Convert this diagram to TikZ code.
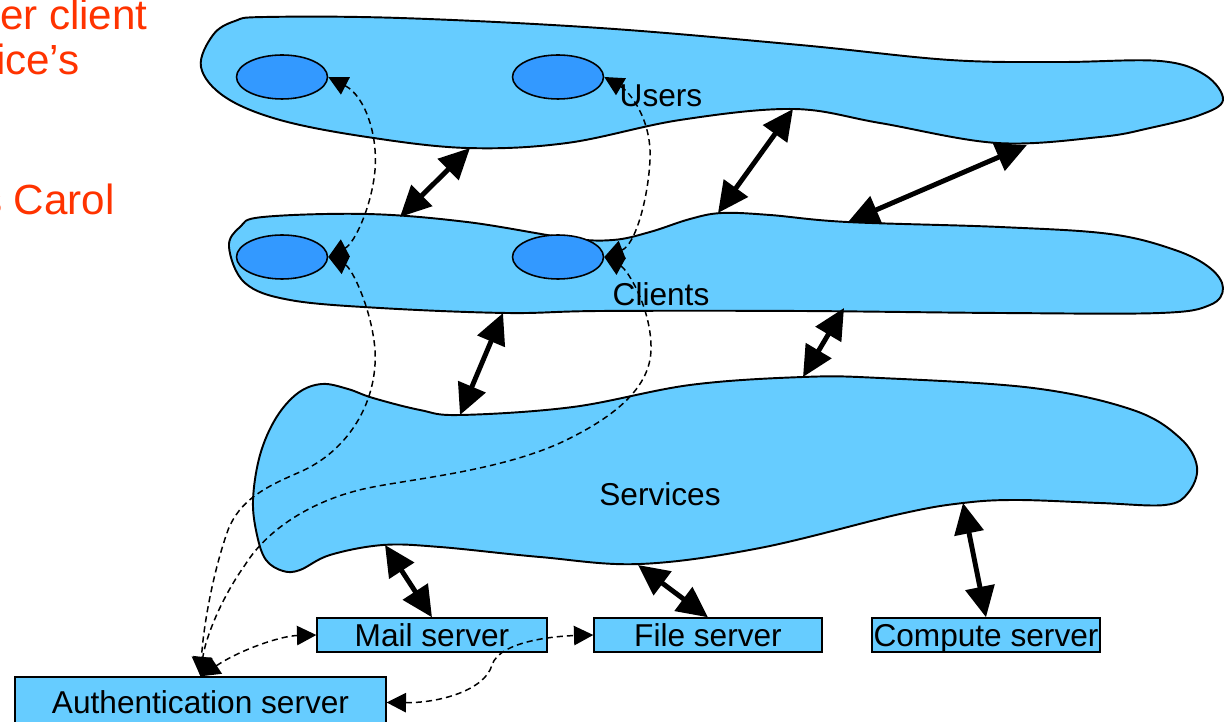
\documentclass[tikz,border=0pt]{standalone}
\usepackage{fontspec}
\setmainfont{Liberation Sans}
\usetikzlibrary{arrows.meta,shapes.geometric}
\definecolor{blobblue}{HTML}{66CCFF}
\definecolor{ellblue}{HTML}{3399FF}
\definecolor{redtxt}{RGB}{255,51,0}
\begin{document}
\begin{tikzpicture}[x=0.02cm,y=-0.02cm,
  blob/.style={fill=blobblue,draw=black,line width=1.1pt},
  person/.style={ellipse,fill=ellblue,draw=black,line width=0.9pt,minimum width=1.82cm,minimum height=0.88cm,inner sep=0pt},
  server/.style={rectangle,fill=blobblue,draw=black,line width=0.8pt,inner sep=0pt,minimum height=0.68cm,text height=13pt,text depth=0pt,font=\fontsize{18}{20}\selectfont},
  lbl/.style={font=\fontsize{18}{20}\selectfont,inner sep=0pt},
  redlbl/.style={font=\fontsize{24}{28}\selectfont,text=redtxt,inner sep=0pt,anchor=base east},
  bigarrow/.style={line width=2.8pt,{Triangle[length=17.5pt,width=16.5pt]}-{Triangle[length=17.5pt,width=16.5pt]}},
  dasharrow/.style={line width=0.85pt,dash pattern=on 3.5pt off 2.3pt,{Triangle[length=11pt,width=11pt]}-{Triangle[length=11pt,width=11pt]}}
]
\useasboundingbox (0,0) rectangle (1225,722);
\clip (0,0) rectangle (1225,722);

% red text (cut off at the left edge)
\node[redlbl] (r1) at (148,30) {er client};
\node[redlbl] (r2) at (80,75) {ice’s};
\node[redlbl] (r3) at (115,215) {s Carol};

% Users blob
\draw[blob] plot[smooth cycle,tension=0.6] coordinates {
  (201,67) (213,35) (235,21) (265,17) (400,18) (600,28) (800,45) (950,60) (1060,62) (1160,61)
  (1205,75) (1223,100) (1200,115) (1150,128) (1100,137) (997,143) (880,123) (793,109) (680,120) (567,143)
  (467,148) (367,137) (280,120) (225,97)};
% Clients blob
\draw[blob] plot[smooth cycle,tension=0.6] coordinates {
  (229,247) (240,227) (263,217) (367,214) (467,222) (567,238) (613,240) (650,232) (690,219)
  (722,213) (770,215) (847,222) (1000,227) (1110,234) (1175,250) (1210,268)
  (1223,288) (1210,305) (1160,313) (1000,313) (800,311) (600,311) (507,313) (380,308) (290,300) (245,283)};
% Services blob
\draw[blob] plot[smooth cycle,tension=0.6] coordinates {
  (253,500) (260,455) (276,418) (298,393) (322,384) (348,389) (373,398) (420,410) (460,415)
  (573,407) (690,385) (803,377) (880,378) (1033,388) (1133,410) (1180,438)
  (1197,467) (1188,493) (1165,505) (1100,503) (1017,500) (963,503) (900,514) (760,548)
  (640,564) (540,557) (440,547) (383,545) (330,555) (300,570) (283,571) (266,560) (257,535)};

% users / clients
\node[person] (uL) at (282,77) {};
\node[person] (uR) at (558,77) {};
\node[person] (cL) at (282,257) {};
\node[person] (cR) at (558,257) {};

\node[lbl] (tu) at (661,96) {Users};
\node[lbl] (tc) at (661,294) {Clients};
\node[lbl] (ts) at (660,494) {Services};

% servers
\node[server,minimum width=4.6cm] (mail) at (432,635) {Mail server};
\node[server,minimum width=4.56cm] (file) at (708,635) {File server};
\node[server,minimum width=4.56cm] (compute) at (986,635) {Compute server};
\node[server,minimum width=7.42cm,minimum height=1.02cm] (auth) at (200.5,702.5) {Authentication server};

% dashed authentication paths
\draw[dasharrow] (uL.east) .. controls (365,96) and (378,135) .. (375,170)
  .. controls (372,205) and (355,243) .. (cL.east);
\draw[dasharrow] (cL.east) .. controls (352,268) and (372,310) .. (375,350)
  .. controls (378,400) and (350,450) .. (300,472)
  .. controls (265,487) and (240,500) .. (228,530)
  .. controls (212,575) and (203,630) .. (auth.north);
\draw[dasharrow] (uR.east) .. controls (630,92) and (652,120) .. (650,160)
  .. controls (648,200) and (635,245) .. (cR.east);
\draw[dasharrow] (cR.east) .. controls (628,270) and (652,310) .. (651,350)
  .. controls (650,385) and (620,415) .. (560,443)
  .. controls (500,470) and (420,478) .. (373,487)
  .. controls (320,497) and (270,525) .. (245,565)
  .. controls (220,600) and (205,640) .. (auth.north);
\draw[dasharrow] (auth.north) .. controls (240,650) and (280,636) .. (mail.west);
\draw[dasharrow] (auth.east) .. controls (440,703) and (485,690) .. (492,665)
  .. controls (500,640) and (560,636) .. (file.west);

% thick interaction arrows
\coordinate (a1s) at (400,217); \coordinate (a1t) at (470,148);
\coordinate (a2s) at (718,213); \coordinate (a2t) at (793,109);
\coordinate (a3s) at (848,222); \coordinate (a3t) at (1027,145);
\coordinate (a4s) at (460,415); \coordinate (a4t) at (503,313);
\coordinate (a5s) at (803,377); \coordinate (a5t) at (844,308);
\coordinate (a6t) at (385,545);
\coordinate (a7t) at (638,565);
\coordinate (a8t) at (963,503);
\draw[bigarrow] (a1s) -- (a1t);
\draw[bigarrow] (a2s) -- (a2t);
\draw[bigarrow] (a3s) -- (a3t);
\draw[bigarrow] (a4s) -- (a4t);
\draw[bigarrow] (a5s) -- (a5t);
\draw[bigarrow] (a6t) -- (mail.north);
\draw[bigarrow] (a7t) -- (file.north);
\draw[bigarrow] (a8t) -- (compute.north);
\end{tikzpicture}
\end{document}
